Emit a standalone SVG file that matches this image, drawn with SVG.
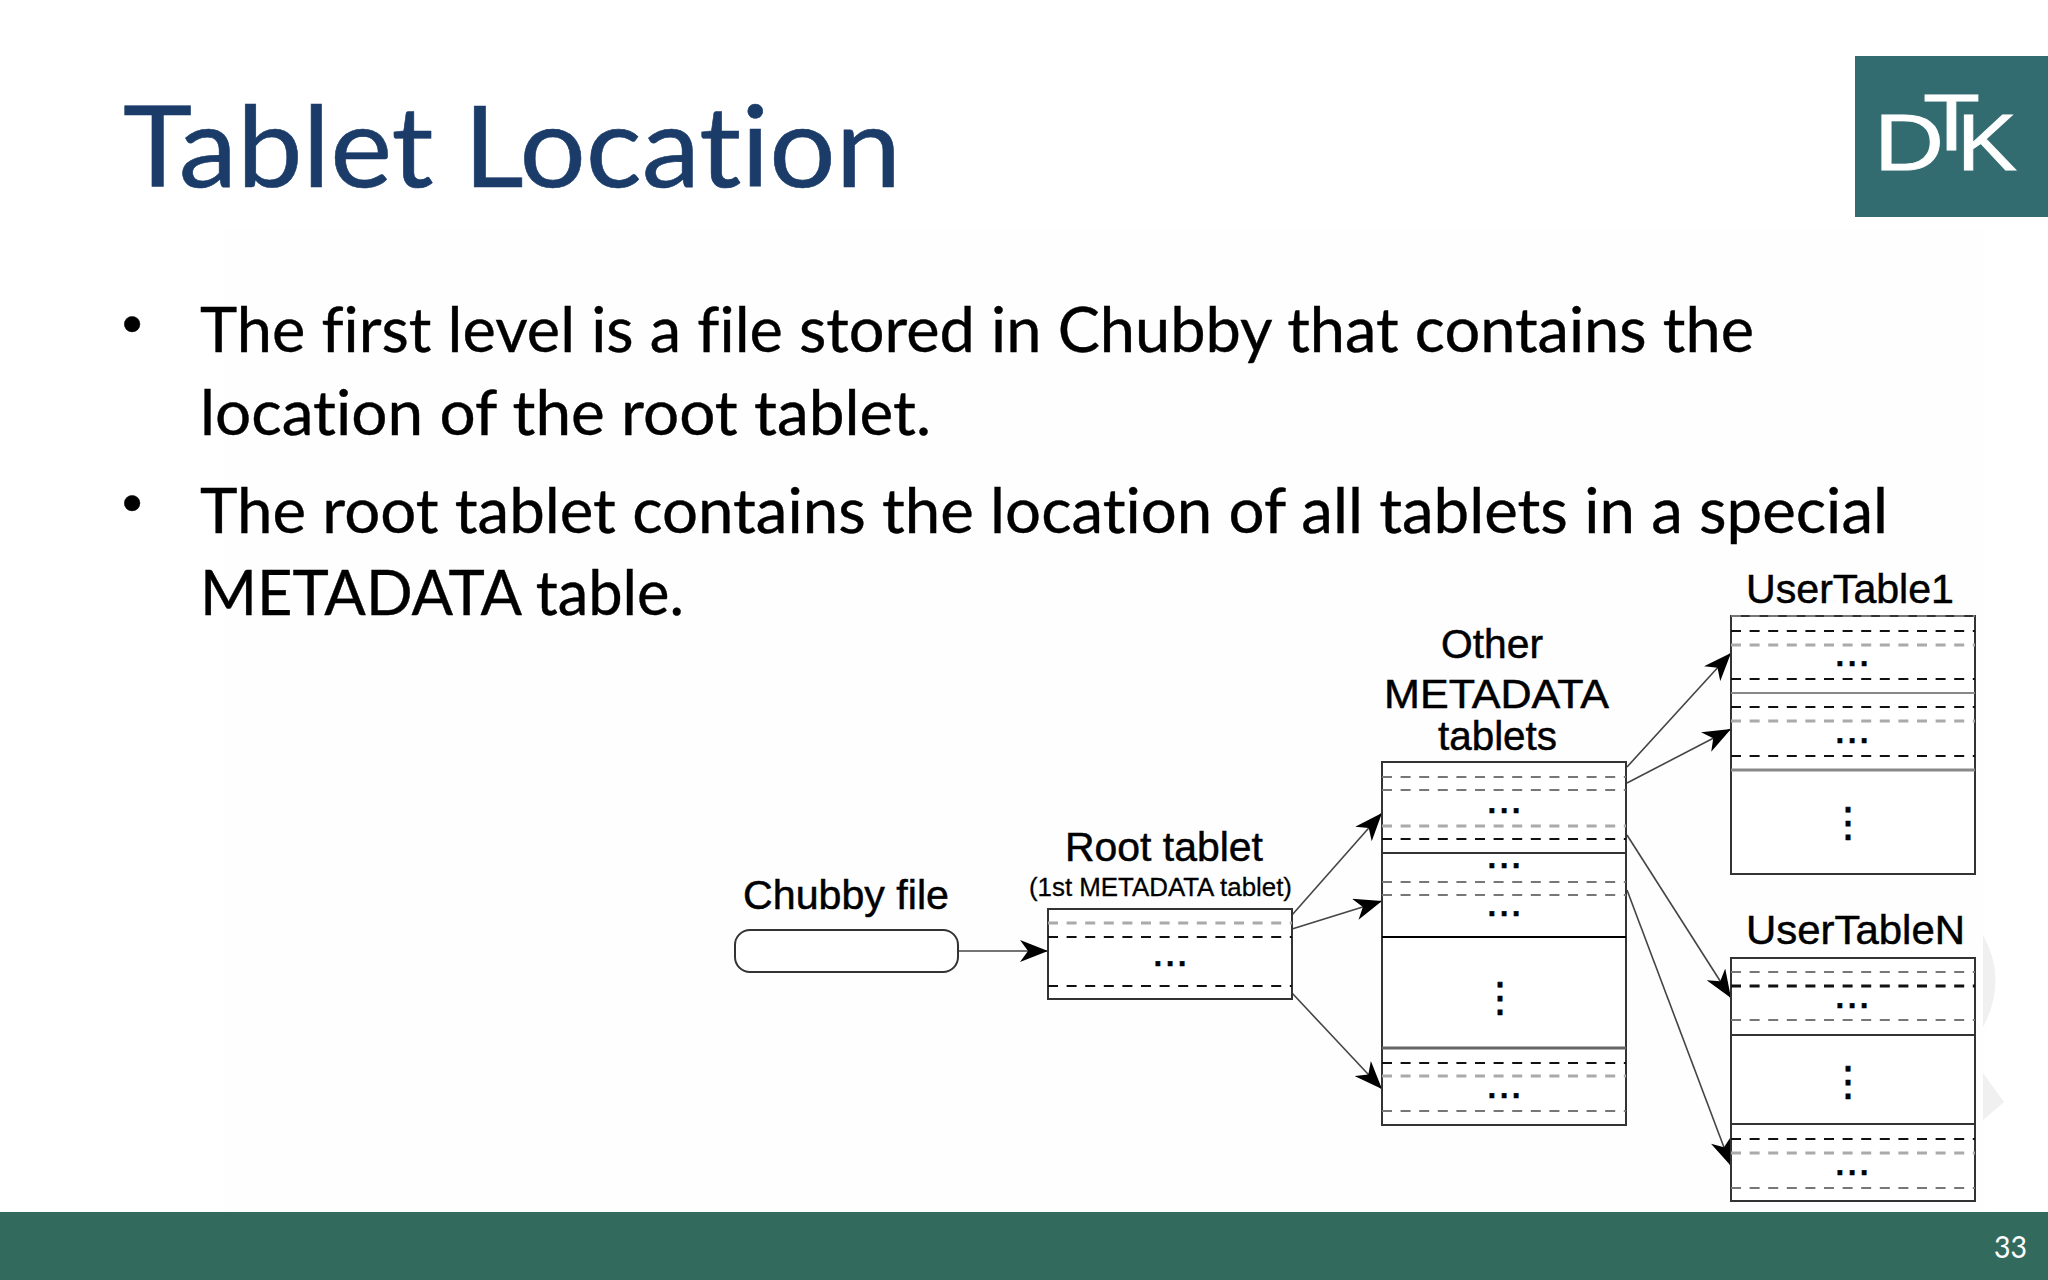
<svg xmlns="http://www.w3.org/2000/svg" width="2048" height="1280" viewBox="0 0 2048 1280">
<style>
text{font-variant-ligatures:none;font-feature-settings:"liga" 0,"dlig" 0,"clig" 0}
.h{font-family:Lato,"Open Sans",sans-serif;fill:#000;stroke:#000;stroke-width:.4}
.t{font-family:"Liberation Sans",Arial,sans-serif;fill:#000;stroke:#000;stroke-width:.5}
.d{font-family:"Liberation Sans",Arial,sans-serif;font-size:44px;fill:#000;stroke:#000;stroke-width:.6;text-anchor:middle}
.v{font-family:"DejaVu Sans",sans-serif;font-size:40px;fill:#000;stroke:#000;stroke-width:.8;text-anchor:middle}
.box{fill:#fff;stroke:#333;stroke-width:2}
.s{stroke:#333;stroke-width:2;fill:none}
.k{stroke:#111;stroke-width:2;stroke-dasharray:10 8.6;fill:none}
.m{stroke:#777;stroke-width:2;stroke-dasharray:10 8.6;fill:none}
.g{stroke:#aaa;stroke-width:3;stroke-dasharray:10 8.6;fill:none}
.c{stroke:#444;stroke-width:1.6;fill:none;marker-end:url(#a)}
</style>
<defs>
<marker id="a" markerUnits="userSpaceOnUse" markerWidth="28" markerHeight="22" refX="28" refY="11" orient="auto">
<path d="M28,11 L0,0 L8,11 L0,22 Z" fill="#000"/>
</marker>
</defs>
<rect width="2048" height="1280" fill="#fff"/>
<rect x="225" y="230" width="1760" height="982" fill="#fefefe"/>
<path d="M1983,935 Q2008,980 1983,1027 Z" fill="#f0f0f0"/>
<path d="M1983,1073 L2004,1102 L1983,1120 Z" fill="#f0f0f0"/>

<g id="title"><text class="h" x="123" y="187" font-size="112" textLength="778" lengthAdjust="spacingAndGlyphs" style="fill:#1b3c69;stroke:#1b3c69;stroke-width:.6">Tablet Location</text></g>
<g id="logo">
<rect x="1855" y="56" width="193" height="161" fill="#336c70"/>
<g font-family="'Liberation Sans',sans-serif" font-size="80" fill="#fff" stroke="#fff" stroke-width=".8">
<text x="1874" y="170" textLength="70" lengthAdjust="spacingAndGlyphs">D</text><text x="1923" y="150" textLength="57" lengthAdjust="spacingAndGlyphs">T</text><text x="1957" y="170" textLength="60" lengthAdjust="spacingAndGlyphs">K</text>
</g>
</g>
<g id="bullets">
<text class="t" x="122" y="343" font-size="58">•</text>
<text class="h" x="200" y="352" font-size="62" textLength="1554" lengthAdjust="spacingAndGlyphs">The first level is a file stored in Chubby that contains the</text>
<text class="h" x="200" y="435" font-size="62" textLength="731" lengthAdjust="spacingAndGlyphs">location of the root tablet.</text>
<text class="t" x="122" y="522" font-size="58">•</text>
<text class="h" x="200" y="533" font-size="62" textLength="1688" lengthAdjust="spacingAndGlyphs">The root tablet contains the location of all tablets in a special</text>
<text class="h" x="200" y="615" font-size="62" textLength="484" lengthAdjust="spacingAndGlyphs">METADATA table.</text>
</g>

<g id="connectors">
<path class="c" d="M958,951H1048"/>
<path class="c" d="M1292,915L1382,813"/>
<path class="c" d="M1292,929L1382,901"/>
<path class="c" d="M1292,993L1382,1089"/>
<path class="c" d="M1627,767L1731,653"/>
<path class="c" d="M1627,783L1731,729"/>
<path class="c" d="M1627,835L1731,998"/>
<path class="c" d="M1627,890L1731,1166"/>
</g>

<g id="chubby-file">
<text class="t" x="743" y="909" font-size="41" textLength="206" lengthAdjust="spacingAndGlyphs">Chubby file</text>
<rect class="box" x="735" y="930" width="223" height="42" rx="15"/>
</g>

<g id="root-tablet">
<text class="t" x="1065" y="861" font-size="41" textLength="198" lengthAdjust="spacingAndGlyphs">Root tablet</text>
<text class="t" x="1029" y="896" font-size="26" textLength="263" lengthAdjust="spacingAndGlyphs" style="stroke-width:.3">(1st METADATA tablet)</text>
<rect class="box" x="1048" y="909" width="244" height="90"/>
<path class="g" d="M1048,923H1292"/><path class="k" d="M1048,937H1292"/><path class="k" d="M1048,986H1292"/>
<text class="d" x="1170" y="966">...</text>
</g>

<g id="other-metadata">
<text class="t" x="1441" y="658" font-size="41" textLength="102" lengthAdjust="spacingAndGlyphs">Other</text>
<text class="t" x="1384" y="708" font-size="41" textLength="225" lengthAdjust="spacingAndGlyphs">METADATA</text>
<text class="t" x="1438" y="750" font-size="41" textLength="119" lengthAdjust="spacingAndGlyphs">tablets</text>
<rect class="box" x="1382" y="762" width="244" height="363"/>
<path class="m" d="M1382,777H1626"/><path class="m" d="M1382,790H1626"/><path class="g" d="M1382,826H1626"/><path class="k" d="M1382,839H1626"/>
<path class="s" d="M1382,853H1626"/>
<path class="m" d="M1382,882H1626"/><path class="m" d="M1382,895H1626"/>
<path class="s" d="M1382,937H1626" style="stroke:#000"/>
<path class="s" d="M1382,1048H1626" style="stroke:#666;stroke-width:3"/>
<path class="k" d="M1382,1063H1626"/><path class="g" d="M1382,1076H1626"/><path class="m" d="M1382,1111H1626"/>
<text class="d" x="1504" y="813">...</text>
<text class="d" x="1504" y="868">...</text>
<text class="d" x="1504" y="916">...</text>
<text class="v" x="1500" y="1011">⋮</text>
<text class="d" x="1504" y="1098">...</text>
</g>

<g id="user-table-1">
<text class="t" x="1746" y="603" font-size="41" textLength="208" lengthAdjust="spacingAndGlyphs">UserTable1</text>
<rect class="box" x="1731" y="616" width="244" height="258"/>
<path class="m" d="M1731,616H1975"/><path class="k" d="M1731,631H1975"/><path class="g" d="M1731,645H1975"/><path class="k" d="M1731,679H1975"/>
<path class="s" d="M1731,693H1975" style="stroke:#888"/>
<path class="k" d="M1731,707H1975"/><path class="g" d="M1731,721H1975"/><path class="k" d="M1731,756H1975"/>
<path class="s" d="M1731,770H1975" style="stroke:#888;stroke-width:3"/>
<text class="d" x="1852" y="666">...</text>
<text class="d" x="1852" y="743">...</text>
<text class="v" x="1848" y="836">⋮</text>
</g>

<g id="user-table-n">
<text class="t" x="1746" y="944" font-size="41" textLength="219" lengthAdjust="spacingAndGlyphs">UserTableN</text>
<rect class="box" x="1731" y="958" width="244" height="243"/>
<path class="m" d="M1731,972H1975"/><path class="k" d="M1731,986H1975" style="stroke-width:3"/><path class="m" d="M1731,1020H1975"/>
<path class="s" d="M1731,1035H1975"/>
<path class="s" d="M1731,1124H1975"/>
<path class="k" d="M1731,1139H1975"/><path class="g" d="M1731,1153H1975"/><path class="m" d="M1731,1188H1975"/>
<text class="d" x="1852" y="1008">...</text>
<text class="v" x="1848" y="1095">⋮</text>
<text class="d" x="1852" y="1175">...</text>
</g>

<g id="footer">
<rect x="0" y="1212" width="2048" height="68" fill="#336a5e"/>
<text x="1994" y="1258" font-family="Lato,sans-serif" font-size="31" fill="#fff" textLength="33" lengthAdjust="spacingAndGlyphs">33</text>
</g>
</svg>
